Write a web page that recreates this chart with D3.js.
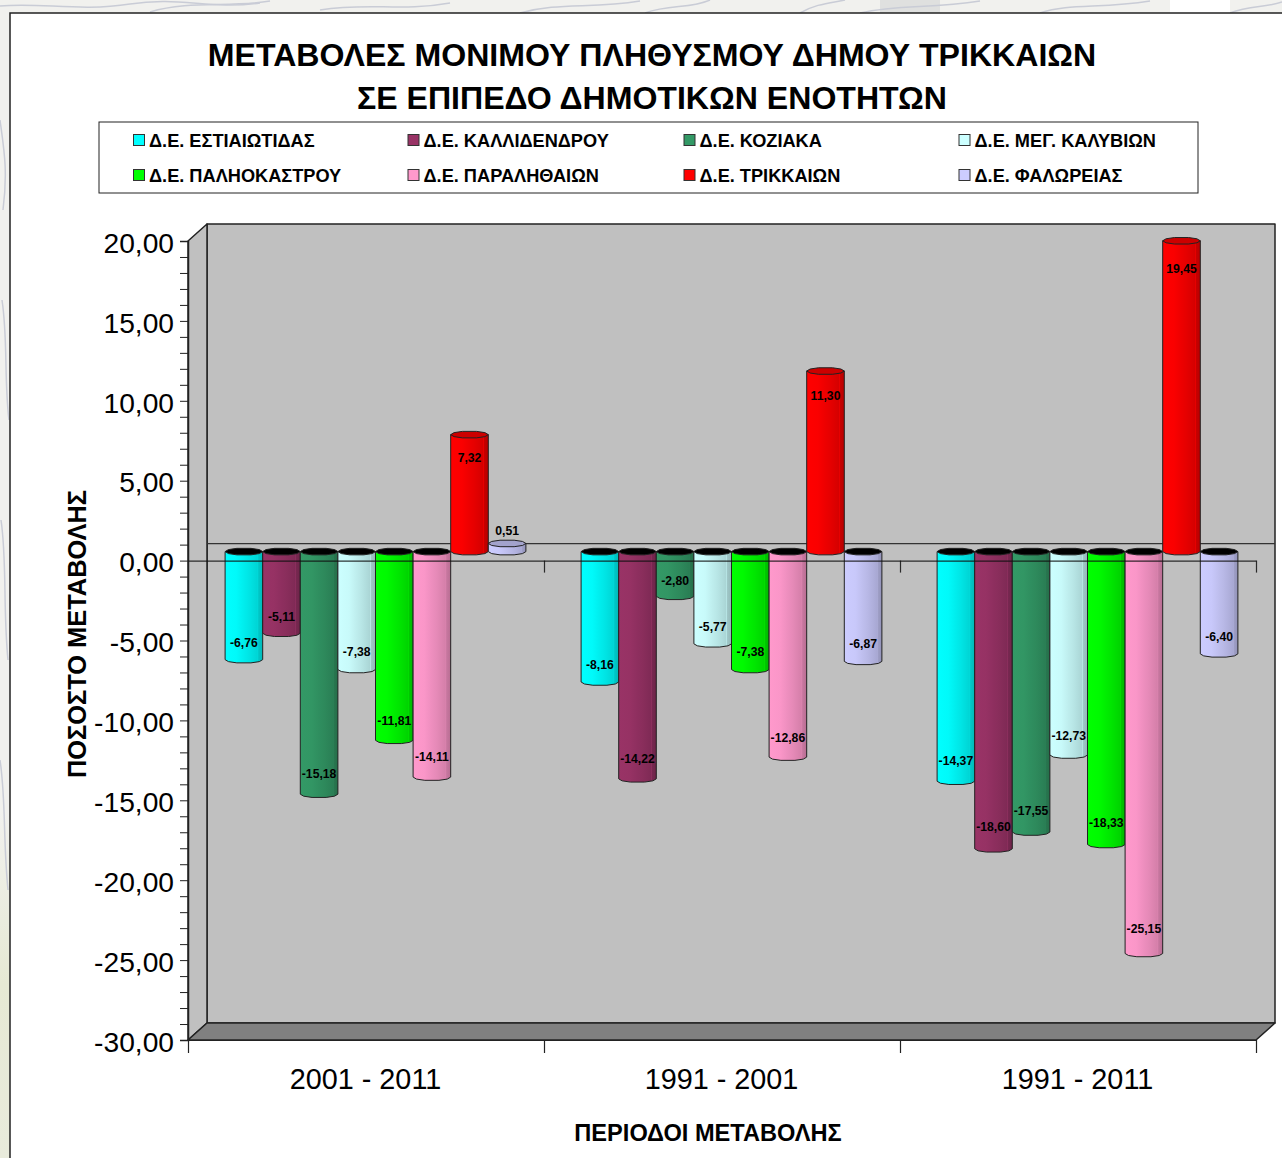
<!DOCTYPE html>
<html>
<head>
<meta charset="utf-8">
<script src="https://cdn.jsdelivr.net/npm/d3@7"></script>
<style>
  html, body { margin: 0; padding: 0; background: #fff; overflow: hidden; }
  svg { display: block; font-family: "Liberation Sans", Arial, sans-serif; }
</style>
</head>
<body>
<svg id="chart" width="1282" height="1158"></svg>
<script>
// chart data
const periods = ['2001 - 2011', '1991 - 2001', '1991 - 2011']
const series_names = [
  'Δ.Ε. ΕΣΤΙΑΙΩΤΙΔΑΣ', 'Δ.Ε. ΚΑΛΛΙΔΕΝΔΡΟΥ', 'Δ.Ε. ΚΟΖΙΑΚΑ', 'Δ.Ε. ΜΕΓ. ΚΑΛΥΒΙΩΝ',
  'Δ.Ε. ΠΑΛΗΟΚΑΣΤΡΟΥ', 'Δ.Ε. ΠΑΡΑΛΗΘΑΙΩΝ', 'Δ.Ε. ΤΡΙΚΚΑΙΩΝ', 'Δ.Ε. ΦΑΛΩΡΕΙΑΣ'
]
const series_colors = ['#00ffff', '#993366', '#339966', '#ccffff', '#00ff00', '#ff99cc', '#ff0000', '#ccccff']
const estiaiotidas = [-6.76, -8.16, -14.37]
const kallidendrou = [-5.11, -14.22, -18.60]
const koziaka = [-15.18, -2.80, -17.55]
const meg_kalyvion = [-7.38, -5.77, -12.73]
const paliokastrou = [-11.81, -7.38, -18.33]
const paralithaion = [-14.11, -12.86, -25.15]
const trikkaion = [7.32, 11.30, 19.45]
const faloreias = [0.51, -6.87, -6.40]
const series_values = [estiaiotidas, kallidendrou, koziaka, meg_kalyvion, paliokastrou, paralithaion, trikkaion, faloreias]
const y_ticks = d3.range(-30, 21, 1)
const title_lines = ['ΜΕΤΑΒΟΛΕΣ ΜΟΝΙΜΟΥ ΠΛΗΘΥΣΜΟΥ ΔΗΜΟΥ ΤΡΙΚΚΑΙΩΝ', 'ΣΕ ΕΠΙΠΕΔΟ ΔΗΜΟΤΙΚΩΝ ΕΝΟΤΗΤΩΝ']
const y_title = 'ΠΟΣΟΣΤΟ ΜΕΤΑΒΟΛΗΣ'
const x_title = 'ΠΕΡΙΟΔΟΙ ΜΕΤΑΒΟΛΗΣ'

const svg = d3.select('#chart')
const defs = svg.append('defs')

// Plot box: front plane and the depth offset of the 3d walls
const plot = { left: 188, right: 1256, top: 241, bottom: 1040 }
const depth = { x: 19, y: -17 }
const y = d3.scaleLinear().domain([-30, 20]).range([plot.bottom, plot.top])
const x_edge = d3.scaleLinear().domain([0, 3]).range([plot.left, plot.right])
const x_group = d3.scaleBand().domain(periods).range([plot.left, plot.right])
const x_bar = d3.scaleBand().domain(series_names).range([27.6, 328.4])
// d3.format gives a unicode minus, the chart has a plain hyphen
const comma = v => d3.format('.2f')(v).replace('.', ',').replace('\u2212', '-')

gen_background()
gen_title()
gen_legend()
gen_walls()
gen_bars()
gen_axes()
gen_labels()

function gen_background() {
  // Faded map behind the panel, only the top and left strips show
  let bg = svg.append('g')
  let left_grad = defs.append('linearGradient')
    .attr('id', 'left-strip')
    .attr('x1', 0).attr('x2', 0).attr('y1', 0).attr('y2', 1)
  left_grad.append('stop').attr('offset', 0.7).attr('stop-color', '#f1f1ee')
  left_grad.append('stop').attr('offset', 0.85).attr('stop-color', '#e6e9d4')
  left_grad.append('stop').attr('offset', 1).attr('stop-color', '#e9ebdc')
  bg.append('rect').attr('width', 1282).attr('height', 1158).attr('fill', 'url(#left-strip)')
  bg.append('rect').attr('x', 880).attr('y', 0).attr('width', 60).attr('height', 13).attr('fill', '#dfe0df')
  bg.append('rect').attr('x', 1170).attr('y', 0).attr('width', 60).attr('height', 13).attr('fill', '#ffffff')
  let strokes = [
    'M0 6 C40 2 80 12 130 4 S210 10 260 3', 'M150 12 C190 0 230 8 270 1', 'M320 10 C370 2 400 12 450 3',
    'M520 13 C560 2 590 9 640 1', 'M645 13 C670 4 690 9 710 0', 'M800 13 C815 4 830 3 845 0',
    'M860 13 C900 4 930 9 980 1', 'M1040 13 C1070 3 1100 9 1150 1', 'M1230 13 C1250 5 1265 8 1282 2',
    'M0 120 C4 150 8 170 3 210', 'M2 300 C8 340 4 380 9 420', 'M1 520 C7 560 3 610 8 660', 'M0 760 C6 800 3 840 8 890'
  ]
  bg.selectAll('path').data(strokes).join('path')
    .attr('d', d => d)
    .attr('fill', 'none')
    .attr('stroke', '#c9ccd6')
    .attr('stroke-width', 1.5)

  svg.append('rect')
    .attr('x', 10).attr('y', 13)
    .attr('width', 1300).attr('height', 1200)
    .attr('fill', '#fff')
    .attr('stroke', '#222')
    .attr('stroke-width', 1.5)
}

function gen_title() {
  svg.selectAll('.chart-title').data(title_lines).join('text')
    .attr('class', 'chart-title')
    .attr('x', 652)
    .attr('y', (d, i) => 65.5 + i * 43)
    .attr('text-anchor', 'middle')
    .style('font-size', '32.1px')
    .style('font-weight', 'bold')
    .text(d => d)
}

function gen_legend() {
  let legend = svg.append('g')
  legend.append('rect')
    .attr('x', 99).attr('y', 122)
    .attr('width', 1099).attr('height', 71)
    .attr('fill', '#fff')
    .attr('stroke', '#222')
    .attr('stroke-width', 1)

  let col_x = [133, 407.5, 683.5, 958.5]
  let row_y = [140, 175]
  let items = legend.selectAll('g').data(series_names).join('g')
    .attr('transform', (d, i) => `translate(${col_x[i % 4]},${row_y[Math.floor(i / 4)]})`)
  items.append('rect')
    .attr('x', 0.5).attr('y', -5.5)
    .attr('width', 11).attr('height', 11)
    .attr('fill', (d, i) => series_colors[i])
    .attr('stroke', '#333')
    .attr('stroke-width', 1)
  items.append('text')
    .attr('x', 16).attr('y', 6.5)
    .style('font-size', '18.2px')
    .style('font-weight', 'bold')
    .text(d => d)
}

function gen_walls() {
  let [l, r, t, b] = [plot.left, plot.right, plot.top, plot.bottom]
  let [dx, dy] = [depth.x, depth.y]
  let line = d3.line()
  let walls = svg.append('g').attr('stroke', '#222').attr('stroke-width', 1.5).attr('stroke-linejoin', 'round')
  // back wall
  walls.append('rect')
    .attr('x', l + dx).attr('y', t + dy)
    .attr('width', r - l).attr('height', b - t)
    .attr('fill', '#c0c0c0')
  // left wall
  walls.append('path')
    .attr('d', line([[l, t], [l + dx, t + dy], [l + dx, b + dy], [l, b]]) + 'Z')
    .attr('fill', '#c0c0c0')
  // floor
  walls.append('path')
    .attr('d', line([[l, b], [l + dx, b + dy], [r + dx, b + dy], [r, b]]) + 'Z')
    .attr('fill', '#808080')
  // zero line on the back wall
  walls.append('line')
    .attr('x1', l + dx).attr('x2', r + dx)
    .attr('y1', y(0) + dy).attr('y2', y(0) + dy)
    .attr('stroke', '#333')
    .attr('stroke-width', 1.2)
}

// Outline of the faceted cylinder end, walked as a polygon
function cap_points(cx, cy, rx, ry) {
  return [0, 35, 68, 112, 145, 180, 215, 248, 292, 325].map(a => {
    let r = a * Math.PI / 180
    return [cx + rx * Math.cos(r), cy + ry * Math.sin(r)]
  })
}

function gen_bars() {
  // Stepped shading across each cylinder
  let shade_stops = [[0, 0], [0.3, 0.02], [0.5, 0.07], [0.62, 0.1], [0.8, 0.15], [0.86, 0.17], [0.87, 0.08], [0.89, 0.22], [1, 0.28]]
  series_colors.forEach((c, i) => {
    let grad = defs.append('linearGradient').attr('id', `bar-grad-${i}`)
    grad.selectAll('stop').data(shade_stops).join('stop')
      .attr('offset', d => d[0])
      .attr('stop-color', d => d3.interpolateRgb(c, '#000')(d[1]))
  })

  let line = d3.line()
  let plane_y = v => y(v) + depth.y / 2 - 0.5
  let bars_g = svg.append('g').attr('stroke-linejoin', 'round')
  series_names.forEach((name, i) => {
    periods.forEach((period, j) => {
      let v = series_values[i][j]
      let w = x_bar.bandwidth()
      let cx = x_group(period) + x_bar(name) + w / 2 + depth.x / 2
      let rx = w / 2
      let ry = 3.5
      let y0 = plane_y(0)
      let y1 = plane_y(v)
      let top_y = Math.min(y0, y1)
      let bot_y = Math.max(y0, y1)
      let g = bars_g.append('g').attr('class', 'bar').datum(v)
      // body: straight sides and the lower half of the end polygon
      let low = cap_points(cx, bot_y, rx, ry).slice(0, 6)
      let body = [[cx + rx, top_y]].concat(low, [[cx - rx, top_y]])
      g.append('path')
        .attr('d', line(body) + 'Z')
        .attr('fill', `url(#bar-grad-${i})`)
        .attr('stroke', '#222')
        .attr('stroke-width', 1)
      // open top of negative bars is black, positive bars get a darker lid
      g.append('path')
        .attr('d', line(cap_points(cx, top_y, rx, ry)) + 'Z')
        .attr('fill', v < 0 ? '#000' : d3.interpolateRgb(series_colors[i], '#000')(0.2))
        .attr('stroke', '#222')
        .attr('stroke-width', 1)
    })
  })
}

function gen_axes() {
  let y_axis = d3.axisLeft(y)
    .tickValues(y_ticks)
    .tickSize(8)
    .tickFormat(d => d % 5 == 0 ? comma(d) : '')
  let y_g = svg.append('g')
    .attr('transform', `translate(${plot.left},0)`)
    .call(y_axis)
  y_g.select('.domain').attr('stroke', '#222').attr('stroke-width', 1.5)
  y_g.selectAll('.tick line').attr('stroke', '#222').attr('stroke-width', 1)
  y_g.selectAll('text')
    .attr('x', -14)
    .attr('dy', '0.4em')
    .attr('fill', '#000')
    .style('font-size', '28.2px')
    .style('font-family', '"Liberation Sans", Arial, sans-serif')

  // Zero line runs over the bars, bottom axis only carries the group edges
  let zero_axis = d3.axisBottom(x_edge).tickValues([1, 2, 3]).tickSize(12).tickSizeOuter(0).tickFormat('')
  let zero_g = svg.append('g')
    .attr('transform', `translate(0,${y(0)})`)
    .call(zero_axis)
  zero_g.selectAll('.domain, .tick line').attr('stroke', '#111').attr('stroke-width', 1.2).attr('stroke-opacity', 0.85)

  let bottom_axis = d3.axisBottom(x_edge).tickValues([0, 1, 2, 3]).tickSize(13).tickSizeOuter(0).tickFormat('')
  let bottom_g = svg.append('g')
    .attr('transform', `translate(0,${plot.bottom})`)
    .call(bottom_axis)
  bottom_g.selectAll('.domain, .tick line').attr('stroke', '#222').attr('stroke-width', 1.2)

  svg.selectAll('.period-label').data(periods).join('text')
    .attr('class', 'period-label')
    .attr('x', d => x_group(d) + x_group.bandwidth() / 2 - 0.5)
    .attr('y', 1089)
    .attr('text-anchor', 'middle')
    .style('font-size', '28.8px')
    .text(d => d)

  svg.append('text')
    .attr('transform', 'translate(86,634) rotate(-90)')
    .attr('text-anchor', 'middle')
    .style('font-size', '25.4px')
    .style('font-weight', 'bold')
    .text(y_title)

  svg.append('text')
    .attr('x', 708).attr('y', 1141)
    .attr('text-anchor', 'middle')
    .style('font-size', '23.6px')
    .style('font-weight', 'bold')
    .text(x_title)
}

function gen_labels() {
  let w = x_bar.bandwidth()
  let labels = []
  series_names.forEach((name, i) => {
    periods.forEach((period, j) => {
      labels.push({ v: series_values[i][j], x: x_group(period) + x_bar(name) + w / 2 + depth.x / 2 })
    })
  })
  let label_y = d => {
    let end = y(d.v) + depth.y / 2
    if (d.v < 0) return end - 15 - 0.4 * Math.abs(d.v)
    if (d.v < 1) return end - 13
    return end + 20 + 0.4 * d.v
  }
  svg.selectAll('.bar-label').data(labels).join('text')
    .attr('class', 'bar-label')
    .attr('x', d => d.x)
    .attr('y', label_y)
    .attr('dy', '0.35em')
    .attr('text-anchor', 'middle')
    .style('font-size', '12.2px')
    .style('font-weight', 'bold')
    .text(d => comma(d.v))
}
</script>
</body>
</html>
